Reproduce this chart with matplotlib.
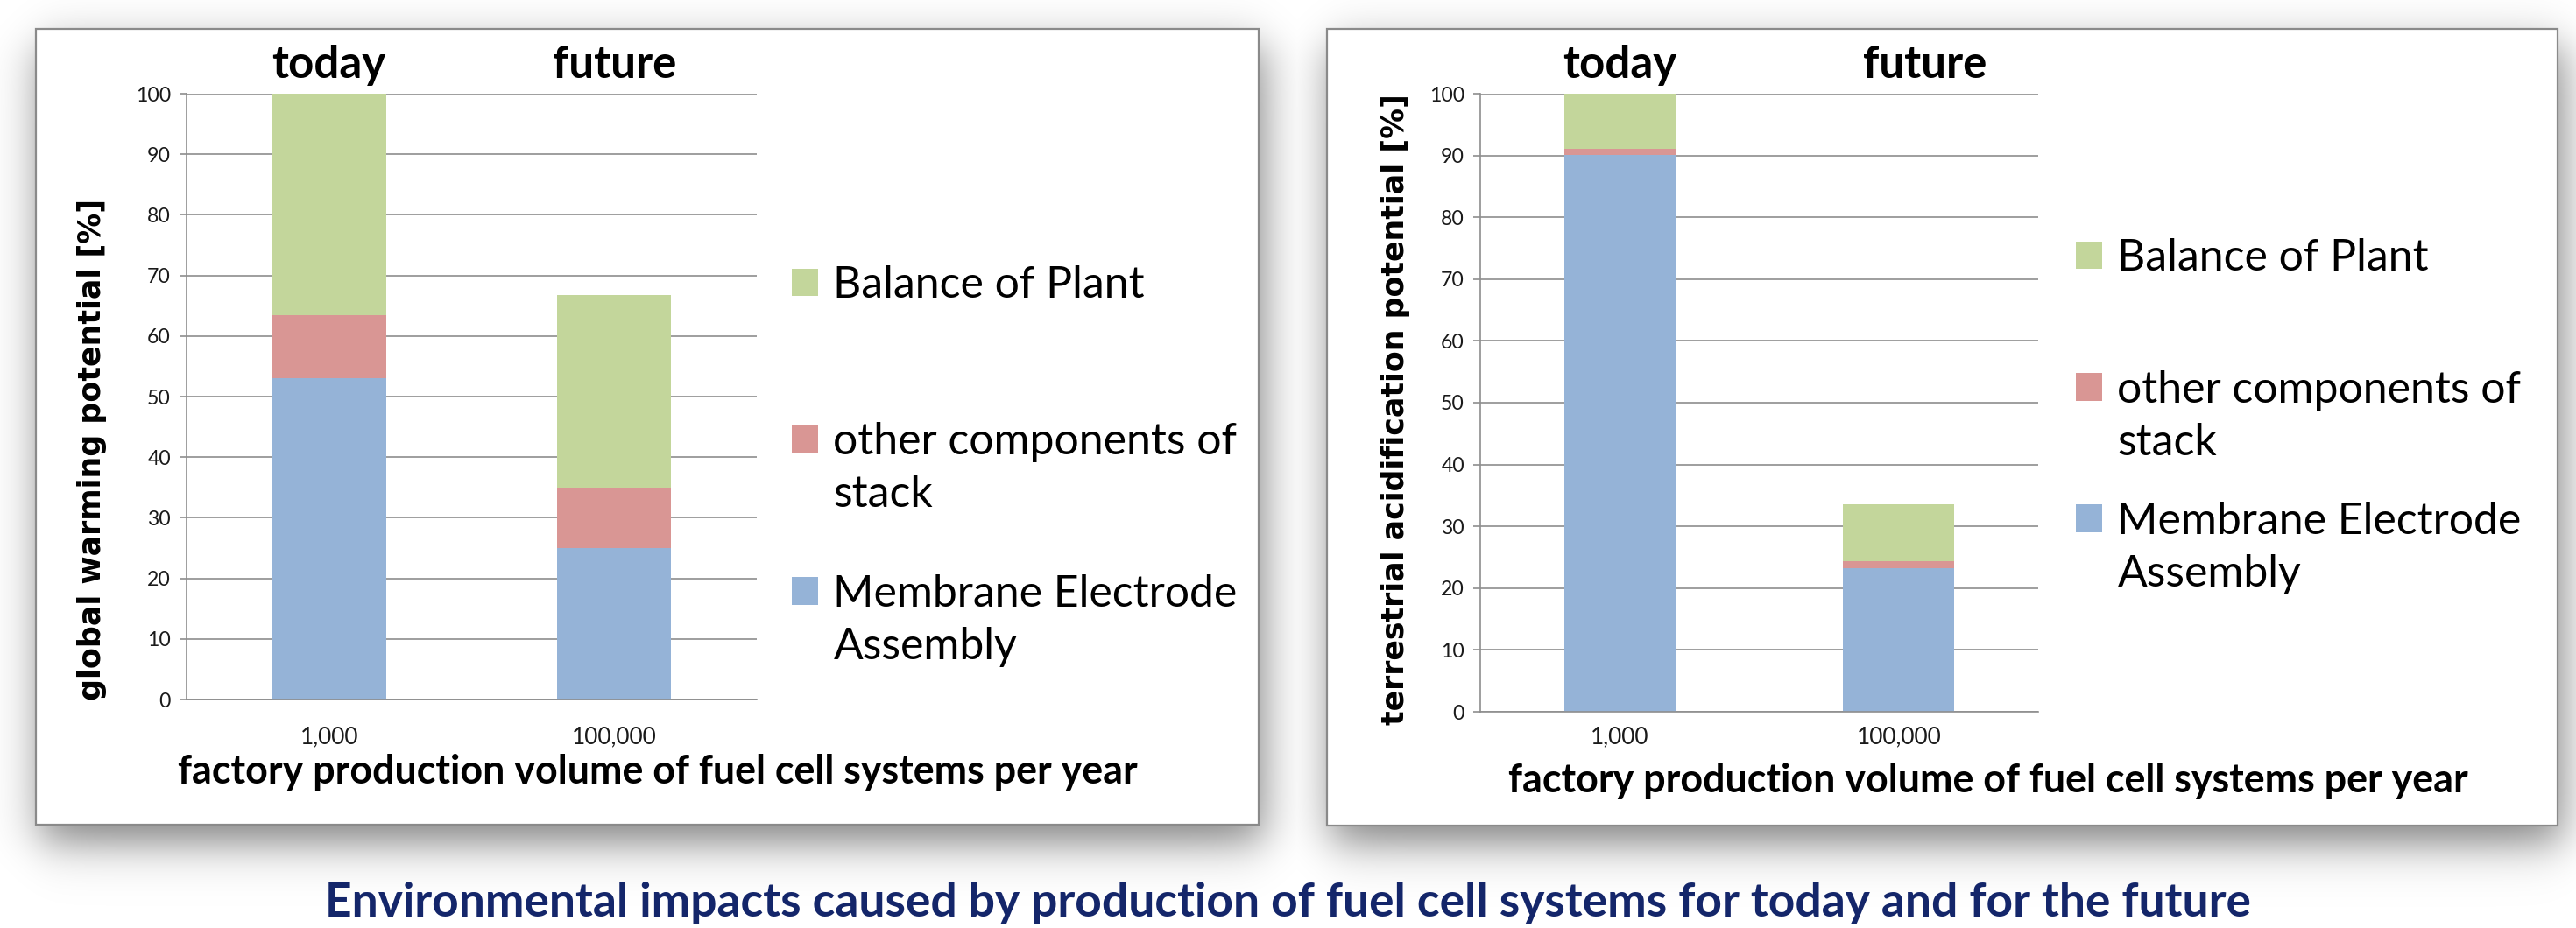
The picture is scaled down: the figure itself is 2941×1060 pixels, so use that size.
import numpy as np
import matplotlib
matplotlib.use('Agg')
import matplotlib.pyplot as plt
from matplotlib.patches import Rectangle
from matplotlib.legend_handler import HandlerPatch, update_from_first_child
from matplotlib import font_manager as fm
from matplotlib.transforms import blended_transform_factory

# ---------------- data ----------------
categories = ['1,000', '100,000']
stage_labels = ['today', 'future']
series_names = ['Membrane Electrode\nAssembly', 'other components of\nstack', 'Balance of Plant']
gwp_mea = [53.1, 25.0]
gwp_other = [10.4, 10.0]
gwp_bop = [36.5, 31.7]
tap_mea = [90.1, 23.2]
tap_other = [1.0, 1.2]
tap_bop = [8.9, 9.2]
y_ticks = list(range(0, 101, 10))
x_title = 'factory production volume of fuel cell systems per year'
y_titles = ['global warming potential [%]', 'terrestrial acidification potential [%]']
caption = 'Environmental impacts caused by production of fuel cell systems for today and for the future'

COLORS = ['#95B3D7', '#D99694', '#C3D69B']
GRID = '#8e8e8e'

avail = {f.name for f in fm.fontManager.ttflist}
def pick(*names):
    for n in names:
        if n in avail:
            return n
    return 'DejaVu Sans'
CAL = pick('Lato', 'Open Sans', 'Noto Sans')
VER = 'DejaVu Sans'

W, H = 2941, 1060
fig = plt.figure(figsize=(W / 100, H / 100), dpi=100)
fig.patch.set_facecolor('white')
renderer = fig.canvas.get_renderer()

def size_for(text, target, family, weight='normal', base=30):
    t = fig.text(0, 0, text, family=family, fontweight=weight, fontsize=base)
    w = t.get_window_extent(renderer).width
    t.remove()
    return base * target / w

def fit(t, target, vertical=False):
    for _ in range(2):
        bb = t.get_window_extent(renderer)
        cur = bb.height if vertical else bb.width
        t.set_fontsize(t.get_fontsize() * target / cur)

# ---------------- background panels with shadows ----------------
bg = fig.add_axes([0, 0, 1, 1], zorder=0)
panels = [(41, 33, 1437, 942), (1515, 33, 2920, 943)]
xs = np.arange(W) + 0.5
ys = np.arange(H) + 0.5
def sig(t):
    return 1.0 / (1.0 + np.exp(-t))
shadow = np.zeros((H, W))
for (x0, y0, x1, y1) in panels:
    dx, dy, s = 5, 20, 15
    sx = sig((xs - (x0 + dx)) / s) - sig((xs - (x1 + dx)) / s)
    sy = sig((ys - (y0 + dy)) / s) - sig((ys - (y1 + dy)) / s)
    shadow = np.maximum(shadow, np.outer(sy, sx))
rgba = np.zeros((H, W, 4))
rgba[..., 3] = shadow * 0.5
bg.imshow(rgba, extent=(0, W, H, 0), interpolation='bilinear', zorder=0)
bg.set_aspect('auto')
bg.set_xlim(0, W)
bg.set_ylim(H, 0)
bg.axis('off')
for (x0, y0, x1, y1) in panels:
    bg.add_patch(Rectangle((x0, y0), x1 - x0, y1 - y0, facecolor='white',
                           edgecolor='#8a8a8a', lw=1.6, zorder=2))

def px_axes(x0, y0, x1, y1):
    return fig.add_axes([x0 / W, 1 - y1 / H, (x1 - x0) / W, (y1 - y0) / H], zorder=3)

class FirstLineHandler(HandlerPatch):
    def __init__(self, lines, ls, **kw):
        super().__init__(update_func=update_from_first_child, **kw)
        self.lines = lines
        self.ls = ls

    def create_artists(self, legend, orig_handle, xdescent, ydescent, width, height, fontsize, trans):
        shift = 0.5 * (self.lines - 1) * self.ls * fontsize
        p = Rectangle((-xdescent, -ydescent + shift), width, height)
        self.update_prop(p, orig_handle, legend)
        p.set_transform(trans)
        return [p]

ytick_fs = size_for('100', 40, CAL)
xtick_fs = size_for('100,000', 97, CAL)
stage_fs = size_for('today', 130, CAL, 'bold')
leg_fs = size_for('Membrane Electrode', 460, CAL)

def draw(box, mea, other, bop, ytitle, ytitle_len, ylab_xy, xlab_xy, xpad,
         stage_off, stage_y, leg_x, leg_ys):
    ax = px_axes(*box)
    x = np.arange(len(categories))
    mea = np.array(mea); other = np.array(other); bop = np.array(bop)
    b1 = ax.bar(x, mea, 0.4, color=COLORS[0], label=series_names[0])
    b2 = ax.bar(x, other, 0.4, bottom=mea, color=COLORS[1], label=series_names[1])
    b3 = ax.bar(x, bop, 0.4, bottom=mea + other, color=COLORS[2], label=series_names[2])
    ax.set_xlim(-0.5, len(categories) - 0.5)
    ax.set_ylim(0, 100)
    ax.set_yticks(y_ticks)
    ax.set_xticks(x, categories)
    ax.set_facecolor('none')
    ax.yaxis.grid(True, color=GRID, lw=1.2)
    ax.set_axisbelow(True)
    for sname in ['top', 'right']:
        ax.spines[sname].set_visible(False)
    for sname in ['left', 'bottom']:
        ax.spines[sname].set_color(GRID)
        ax.spines[sname].set_linewidth(1.2)
    ax.tick_params(axis='y', length=6, width=1.2, color=GRID, pad=7,
                   labelsize=ytick_fs, labelcolor='#1a1a1a')
    ax.tick_params(axis='x', length=0, pad=xpad, labelsize=xtick_fs, labelcolor='#1a1a1a')
    for lbl in ax.get_xticklabels() + ax.get_yticklabels():
        lbl.set_fontfamily(CAL)

    yl = ax.set_ylabel(ytitle, fontfamily=VER, fontweight='bold', fontsize=22, color='black')
    ax.yaxis.set_label_coords(*ylab_xy)
    yl.set_va('center')
    fit(yl, ytitle_len, vertical=True)

    xl = ax.set_xlabel(x_title, fontfamily=CAL, fontweight='bold', fontsize=30, color='black')
    ax.xaxis.set_label_coords(*xlab_xy)
    xl.set_va('center')
    fit(xl, 1097)

    tr = blended_transform_factory(ax.transData, ax.transAxes)
    for i, (lab, off) in enumerate(zip(stage_labels, stage_off)):
        ax.text(x[i] + off, stage_y, lab, transform=tr, ha='center', va='baseline',
                fontfamily=CAL, fontweight='bold', fontsize=stage_fs, color='black')

    for cont, label, yc in zip([b3, b2, b1], [series_names[2], series_names[1], series_names[0]], leg_ys):
        nlines = label.count('\n') + 1
        leg = fig.legend([cont], [label], loc='center left', bbox_to_anchor=(leg_x / W, 1 - yc / H),
                         frameon=False, prop={'family': CAL, 'size': leg_fs},
                         borderpad=0, borderaxespad=0, handlelength=0.6, handleheight=0.6,
                         handletextpad=0.35, handler_map={cont: FirstLineHandler(nlines, 1.4)})
        for t in leg.get_texts():
            t.set_linespacing(1.4)
            t.set_color('black')
    return ax

draw((213, 107, 864, 799), gwp_mea, gwp_other, gwp_bop, y_titles[0], 573,
     (-0.166, 0.413), (0.826, -0.12), 22, [0.0, 0.0], 1.026, 904, [326, 535, 709])
draw((1690, 107, 2327, 813), tap_mea, tap_other, tap_bop, y_titles[1], 720,
     (-0.152, 0.489), (0.91, -0.112), 12, [0.0, 0.095], 1.0255, 2370, [295, 476, 626])

cap = fig.text(1470 / W, 1 - 1047 / H, caption, ha='center', va='baseline',
               color='#14266a', fontweight='bold', fontfamily=CAL, fontsize=36)
fit(cap, 2200)

fig.savefig('out.png', dpi=100, facecolor='white')
